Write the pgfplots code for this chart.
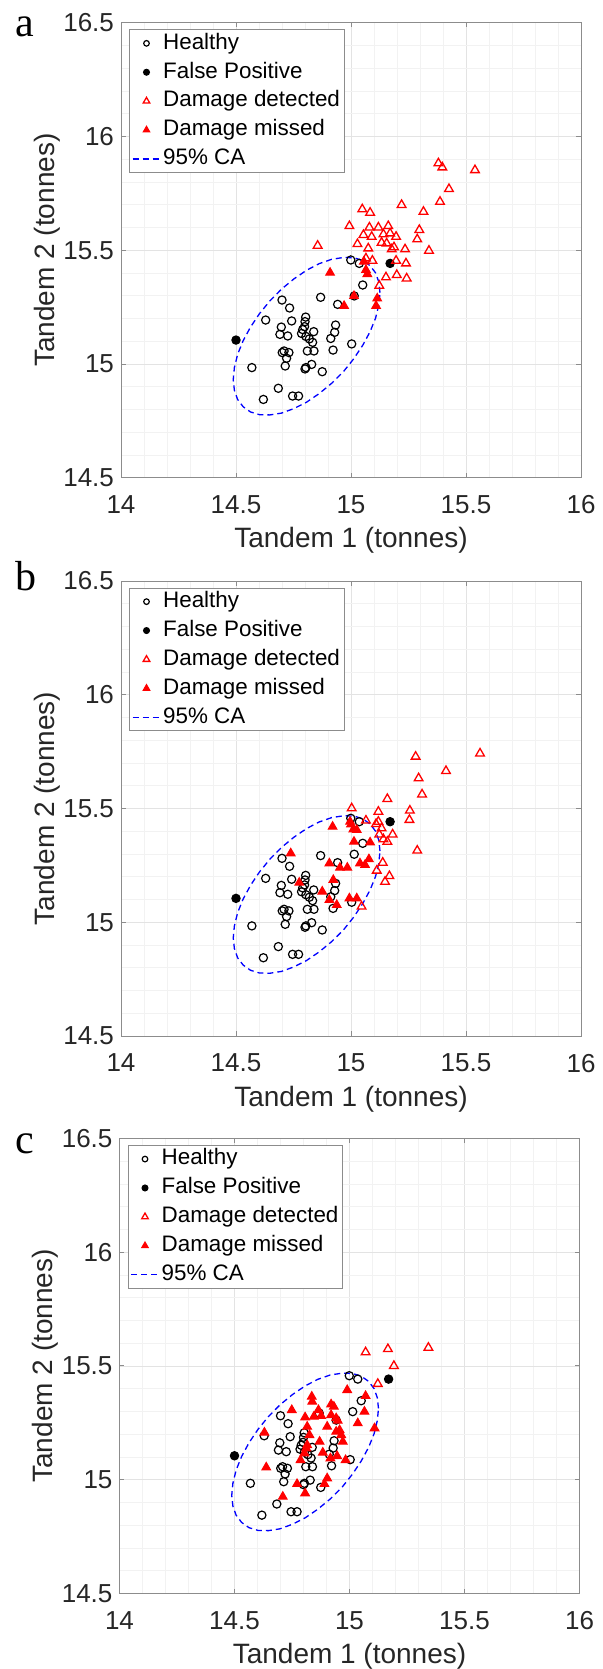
\documentclass[border=0pt]{standalone}
\usepackage{pgfplots}
\pgfplotsset{compat=1.18}
\usepackage{pgfplotstable}
\usepackage{fontspec}
\setmainfont{Liberation Sans}
\newfontfamily\seriffont{Liberation Serif}
\definecolor{axgray}{gray}{0.55}
\definecolor{txt}{gray}{0.15}

\pgfplotstableread{
x y
14.999 15.457
15.036 15.442
15.051 15.347
15.014 15.299
14.868 15.293
14.942 15.262
14.700 15.281
14.733 15.246
14.629 15.193
14.742 15.189
14.803 15.206
14.800 15.186
14.798 15.164
14.697 15.162
14.790 15.151
14.838 15.142
14.933 15.171
14.929 15.139
14.691 15.130
14.725 15.123
14.785 15.134
14.804 15.121
14.819 15.110
14.833 15.095
14.912 15.112
15.003 15.088
14.709 15.057
14.730 15.050
14.701 15.050
14.810 15.057
14.839 15.057
14.922 15.061
14.720 15.025
14.714 14.991
14.804 14.984
14.800 14.978
14.829 14.998
14.875 14.966
14.569 14.984
14.684 14.893
14.619 14.844
14.746 14.859
14.772 14.859
}\healthy

\pgfplotstableread{
x y
14.500 15.105
15.170 15.442
}\falsepos

\pgfplotstableread{
x y
15.126 15.313
15.121 15.360
15.107 15.400
15.083 15.432
15.051 15.455
15.012 15.467
14.967 15.468
14.916 15.460
14.862 15.441
14.807 15.412
14.752 15.374
14.698 15.329
14.648 15.278
14.602 15.221
14.563 15.162
14.531 15.102
14.507 15.042
14.493 14.984
14.488 14.931
14.493 14.884
14.507 14.844
14.531 14.812
14.563 14.789
14.602 14.777
14.648 14.776
14.698 14.784
14.752 14.804
14.807 14.832
14.862 14.870
14.916 14.915
14.967 14.966
15.012 15.023
15.051 15.082
15.083 15.142
15.107 15.202
15.121 15.260
15.126 15.313
}\ellipse

% Panel a
\pgfplotstableread{
x y
15.380 15.882
15.397 15.864
15.539 15.852
15.426 15.769
15.387 15.713
15.220 15.699
15.315 15.669
15.049 15.680
15.083 15.665
14.993 15.606
15.080 15.600
15.119 15.600
15.162 15.606
15.297 15.589
15.054 15.567
15.090 15.559
15.141 15.570
15.170 15.574
15.196 15.559
15.288 15.548
14.855 15.520
15.028 15.527
15.075 15.508
15.133 15.533
15.155 15.530
15.177 15.504
15.187 15.513
15.235 15.504
15.339 15.498
15.065 15.464
15.093 15.454
15.196 15.454
15.239 15.442
15.199 15.391
15.242 15.376
15.152 15.381
15.123 15.344
}\ddA

\pgfplotstableread{
x y
14.909 15.401
15.056 15.450
15.065 15.413
15.071 15.395
15.013 15.299
14.970 15.255
15.114 15.288
15.109 15.255
}\dmA

% Panel b
\pgfplotstableread{
x y
15.561 15.742
15.281 15.728
15.413 15.665
15.294 15.633
15.309 15.562
15.158 15.542
15.003 15.501
15.119 15.486
15.256 15.491
15.254 15.450
15.065 15.447
15.119 15.442
15.109 15.432
15.133 15.413
15.123 15.386
15.181 15.386
15.141 15.365
15.158 15.354
15.288 15.315
15.138 15.262
15.112 15.227
15.167 15.203
15.148 15.178
15.046 15.069
}\ddB

\pgfplotstableread{
x y
14.920 15.420
14.996 15.442
15.000 15.430
15.010 15.408
15.025 15.406
15.013 15.354
15.083 15.351
14.738 15.303
14.906 15.259
14.952 15.240
14.984 15.240
15.039 15.259
15.061 15.252
15.078 15.277
14.775 15.174
14.923 15.186
14.875 15.135
14.906 15.098
14.938 15.076
14.993 15.105
15.025 15.105
}\dmB

% Panel c
\pgfplotstableread{
x y
15.070 15.560
15.167 15.574
15.343 15.580
15.193 15.500
15.123 15.421
}\ddC

\pgfplotstableread{
x y
14.990 15.394
15.070 15.368
14.836 15.365
14.838 15.343
14.920 15.331
14.932 15.321
14.749 15.306
14.865 15.306
15.065 15.299
14.920 15.284
14.807 15.274
14.845 15.277
14.877 15.280
14.942 15.270
14.949 15.259
15.036 15.248
14.903 15.233
14.816 15.233
14.957 15.218
15.109 15.226
14.630 15.207
14.826 15.196
14.942 15.211
14.964 15.196
14.971 15.167
14.870 15.167
14.816 15.152
14.884 15.119
14.804 15.116
14.787 15.086
14.917 15.094
14.946 15.104
14.983 15.086
14.638 15.054
14.903 15.006
14.772 14.981
14.891 14.981
14.807 14.940
14.710 14.925
14.812 15.138
}\dmC

\pgfplotsset{
  myaxis/.style={
    scale only axis, width=230pt, height=227.5pt,
    xmin=14, xmax=16, ymin=14.5, ymax=16.5,
    xtick={14,14.5,15,15.5,16}, ytick={14.5,15,15.5,16,16.5},
    minor tick num=4, minor tick length=0pt,
    major tick length=2.3pt, tick align=inside,
    grid=both,
    major grid style={black!11, line width=0.3pt},
    minor grid style={black!5, line width=0.3pt},
    axis line style={axgray, line width=0.45pt},
    tick style={axgray, line width=0.45pt},
    /pgf/number format/assume math mode=true,
    ticklabel style={font=\fontsize{13}{15}\selectfont, text=txt},
    xticklabel style={yshift=-5.5pt},
    label style={font=\fontsize{14}{16}\selectfont, text=txt},
    xlabel={Tandem 1 (tonnes)}, ylabel={Tandem 2 (tonnes)},
    xlabel style={at={(axis description cs:0.5,-0.1385)}, anchor=center},
    ylabel style={at={(axis description cs:-0.161,0.5)}, anchor=center},
    legend cell align=left,
    legend style={at={(0.0174,0.9855)}, anchor=north west, draw=axgray,
      line width=0.45pt, font=\fontsize{11.2}{13}\selectfont, text=black,
      inner xsep=1.2pt, inner ysep=0.5pt, row sep=1.85pt,
      nodes={inner sep=1pt, text height=8.2pt, text depth=2.4pt}},
  },
  healthystyle/.style={only marks, mark=o, mark size=2.05pt, black, line width=0.6pt,
    legend image code/.code={\draw[##1, mark size=1.4pt] plot coordinates {(7pt,0pt)};}},
  fpstyle/.style={only marks, mark=*, mark size=2.1pt, black, line width=0.5pt,
    legend image code/.code={\draw[##1, mark size=1.5pt] plot coordinates {(7pt,0pt)};}},
  ddstyle/.style={only marks, mark=triangle, mark size=2.5pt, red, line width=0.65pt,
    legend image code/.code={\draw[##1, mark size=1.9pt] plot coordinates {(7pt,0pt)};}},
  dmstyle/.style={only marks, mark=triangle*, mark size=2.5pt, red, fill=red, line width=0.5pt,
    mark options={fill=red},
    legend image code/.code={\draw[##1, mark size=1.9pt] plot coordinates {(7pt,0pt)};}},
  castyle/.style={blue, line width=0.65pt, dash pattern=on 3pt off 2pt, mark=none,
    legend image code/.code={\draw[##1] (0pt,0pt) -- (14pt,0pt);}},
}

\begin{document}
\begin{tikzpicture}
\path[use as bounding box] (0,0) rectangle (301.5pt,-834.5pt);

\begin{axis}[myaxis, at={(60.5pt,-11.35pt)}, anchor=north west]
\addplot[healthystyle] table {\healthy}; \addlegendentry{Healthy}
\addplot[fpstyle] table {\falsepos}; \addlegendentry{False Positive}
\addplot[ddstyle] table {\ddA}; \addlegendentry{Damage detected}
\addplot[dmstyle] table {\dmA}; \addlegendentry{Damage missed}
\addplot[castyle] table {\ellipse}; \addlegendentry{95\% CA}
\end{axis}

\begin{axis}[myaxis, at={(60.5pt,-290.5pt)}, anchor=north west]
\addplot[healthystyle] table {\healthy}; \addlegendentry{Healthy}
\addplot[fpstyle] table {\falsepos}; \addlegendentry{False Positive}
\addplot[ddstyle] table {\ddB}; \addlegendentry{Damage detected}
\addplot[dmstyle] table {\dmB}; \addlegendentry{Damage missed}
\addplot[castyle] table {\ellipse}; \addlegendentry{95\% CA}
\end{axis}

\begin{axis}[myaxis, at={(59.75pt,-569.2pt)}, anchor=north west]
\addplot[healthystyle] table {\healthy}; \addlegendentry{Healthy}
\addplot[fpstyle] table {\falsepos}; \addlegendentry{False Positive}
\addplot[ddstyle] table {\ddC}; \addlegendentry{Damage detected}
\addplot[dmstyle] table {\dmC}; \addlegendentry{Damage missed}
\addplot[castyle] table {\ellipse}; \addlegendentry{95\% CA}
\end{axis}

\node[anchor=base west, inner sep=0pt, font=\seriffont\fontsize{21}{24}\selectfont] at (7.5pt,-18.3pt) {a};
\node[anchor=base west, inner sep=0pt, font=\seriffont\fontsize{21}{24}\selectfont] at (7.5pt,-295pt) {b};
\node[anchor=base west, inner sep=0pt, font=\seriffont\fontsize{21}{24}\selectfont] at (7.5pt,-576.5pt) {c};
\end{tikzpicture}
\end{document}
